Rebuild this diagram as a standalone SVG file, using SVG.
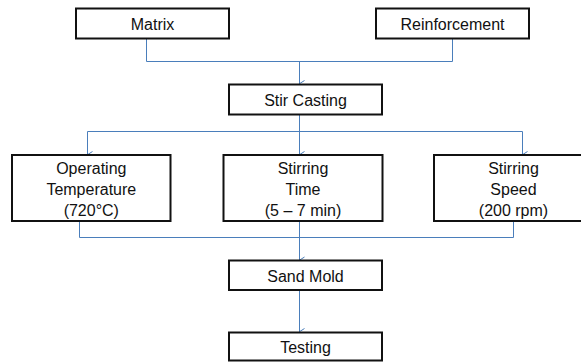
<svg xmlns="http://www.w3.org/2000/svg" width="581" height="362" viewBox="0 0 581 362">
<defs>
<marker id="arr" markerWidth="10" markerHeight="10" refX="5" refY="8" orient="auto-start-reverse" markerUnits="userSpaceOnUse" viewBox="0 0 10 10">
<path d="M1.5,3 L5,8.5 L8.5,3" fill="none" stroke="#4a7ebb" stroke-width="1"/>
</marker>
</defs>
<style>
.box{fill:#fff;stroke:#111;stroke-width:2}
.lbl{font-family:"Liberation Sans",Arial,sans-serif;font-size:16px;fill:#111;text-anchor:middle}
.con{fill:none;stroke:#4a7ebb;stroke-width:1}
</style>
<rect width="581" height="362" fill="#fff"/>
<g id="connectors">
<polyline class="con" points="146.5,38.5 146.5,61.5 452.5,61.5 452.5,38.5"/>
<line class="con" x1="299.5" y1="61.5" x2="299.5" y2="84" marker-end="url(#arr)"/>
<line class="con" x1="299.5" y1="114.5" x2="299.5" y2="155" marker-end="url(#arr)"/>
<line class="con" x1="87.5" y1="131.5" x2="522.5" y2="131.5"/>
<line class="con" x1="87.5" y1="131.5" x2="87.5" y2="155" marker-end="url(#arr)"/>
<line class="con" x1="522.5" y1="131.5" x2="522.5" y2="155" marker-end="url(#arr)"/>
<polyline class="con" points="79.5,221 79.5,237.5 513.5,237.5 513.5,221"/>
<line class="con" x1="299.5" y1="221" x2="299.5" y2="260.5" marker-end="url(#arr)"/>
<line class="con" x1="299.5" y1="290" x2="299.5" y2="332" marker-end="url(#arr)"/>
</g>
<g id="matrix">
<rect class="box" x="76" y="8.5" width="153" height="30"/>
<text class="lbl" x="152.5" y="29.5">Matrix</text>
</g>
<g id="reinforcement">
<rect class="box" x="376" y="8.5" width="153" height="30"/>
<text class="lbl" x="452.5" y="29.5">Reinforcement</text>
</g>
<g id="stir-casting">
<rect class="box" x="229" y="84.5" width="153" height="30"/>
<text class="lbl" x="305.5" y="105.5">Stir Casting</text>
</g>
<g id="operating-temperature">
<rect class="box" x="12" y="155" width="158.5" height="66"/>
<text class="lbl" x="91.3" y="174">Operating</text>
<text class="lbl" x="91.3" y="195">Temperature</text>
<text class="lbl" x="91.3" y="216">(720°C)</text>
</g>
<g id="stirring-time">
<rect class="box" x="223.5" y="155" width="159" height="66"/>
<text class="lbl" x="303" y="174">Stirring</text>
<text class="lbl" x="303" y="195">Time</text>
<text class="lbl" x="303" y="216">(5 – 7 min)</text>
</g>
<g id="stirring-speed">
<rect class="box" x="434" y="155" width="159" height="66"/>
<text class="lbl" x="513.5" y="174">Stirring</text>
<text class="lbl" x="513.5" y="195">Speed</text>
<text class="lbl" x="513.5" y="216">(200 rpm)</text>
</g>
<g id="sand-mold">
<rect class="box" x="229" y="260.5" width="153" height="29.5"/>
<text class="lbl" x="305.5" y="281.5">Sand Mold</text>
</g>
<g id="testing">
<rect class="box" x="229" y="332.5" width="153" height="28"/>
<text class="lbl" x="305.5" y="352.5">Testing</text>
</g>
</svg>
